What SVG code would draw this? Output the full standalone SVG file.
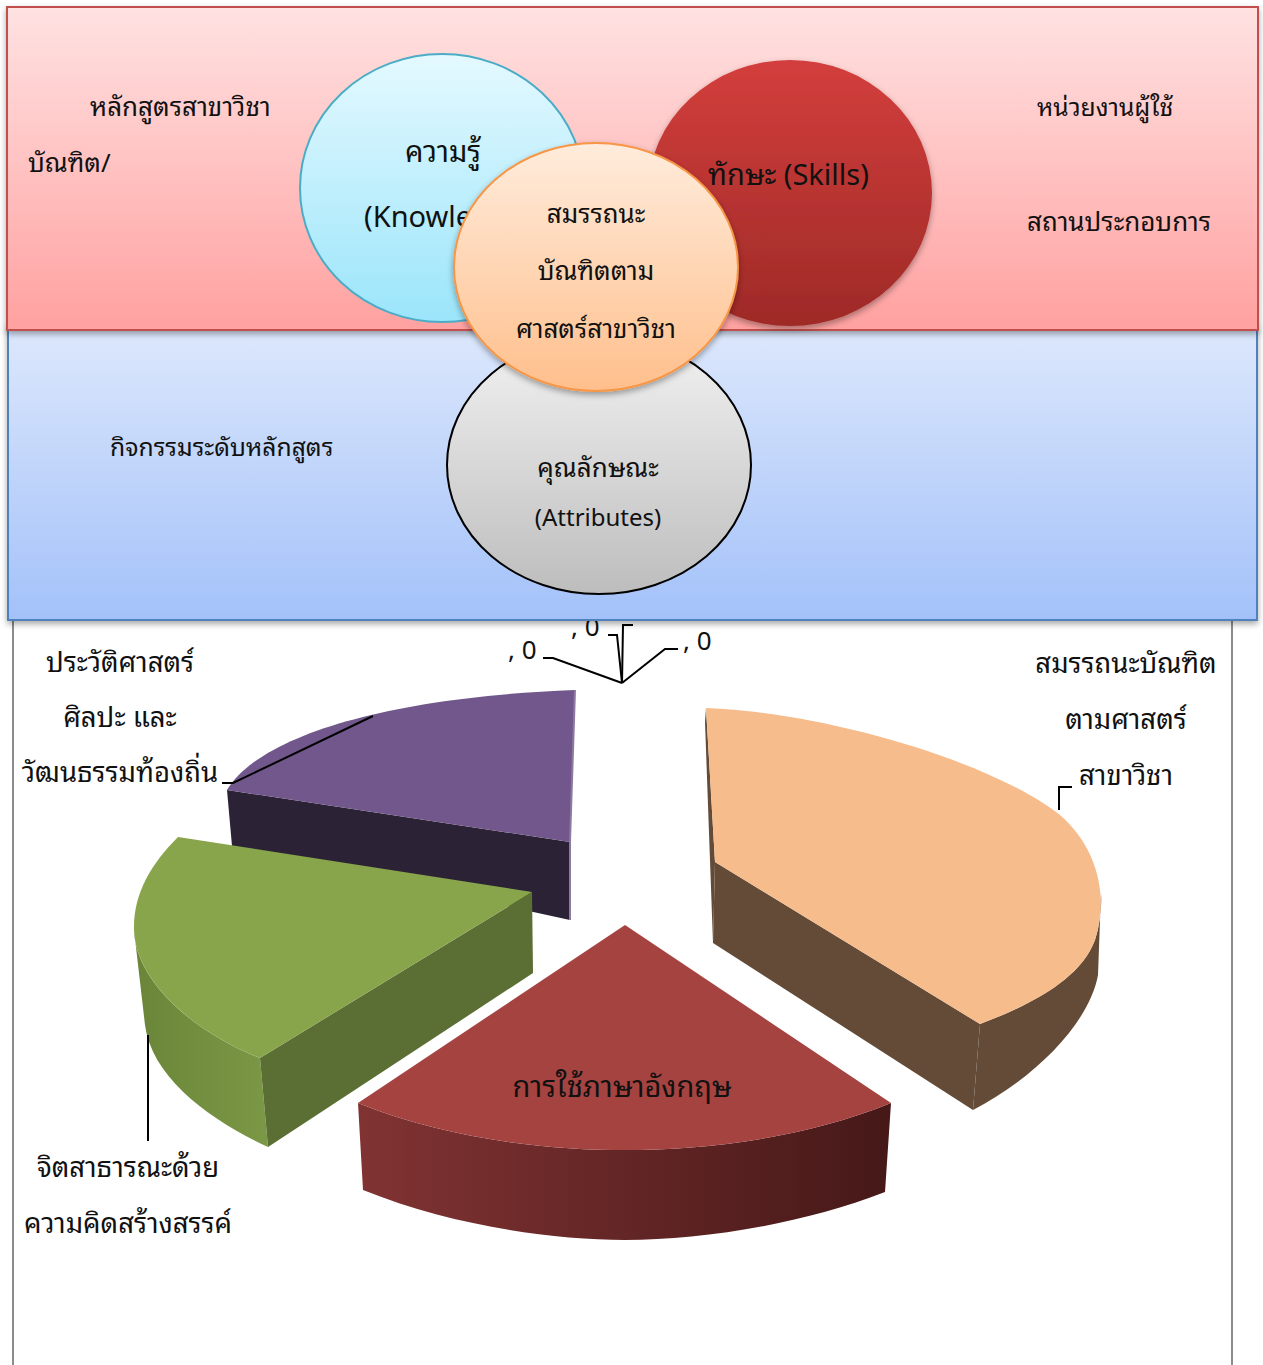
<svg xmlns="http://www.w3.org/2000/svg" width="1263" height="1365" viewBox="0 0 1263 1365">
<defs>
<style>
text{font-family:"Noto Sans Thai Looped","Noto Sans Thai","Noto Sans","DejaVu Sans",sans-serif;fill:#111;}
.t26{font-size:26px;}
.t24{font-size:26px;}
.t25{font-size:24.7px;}
.tp{font-size:27.5px;}
.tc{font-size:26px;}
.t28{font-size:29px;}
.en{font-size:24px;}
.mid{text-anchor:middle;}
.lead{fill:none;stroke:#000;stroke-width:2;}
.frame{stroke:#8c8c8c;stroke-width:2;fill:none;}
</style>
<linearGradient id="gPink" x1="0" y1="0" x2="0" y2="1"><stop offset="0" stop-color="#ffe2e2"/><stop offset="1" stop-color="#ffa1a0"/></linearGradient>
<linearGradient id="gBlue" x1="0" y1="0" x2="0" y2="1"><stop offset="0" stop-color="#dde8fc"/><stop offset="1" stop-color="#a3c1f9"/></linearGradient>
<linearGradient id="gCyan" x1="0" y1="0" x2="0" y2="1"><stop offset="0" stop-color="#e4f9ff"/><stop offset="1" stop-color="#9be5fa"/></linearGradient>
<linearGradient id="gRed" x1="0" y1="0" x2="0" y2="1"><stop offset="0" stop-color="#d33e3c"/><stop offset="1" stop-color="#9e2a27"/></linearGradient>
<linearGradient id="gGray" x1="0" y1="0" x2="0" y2="1"><stop offset="0" stop-color="#f2f2f2"/><stop offset="1" stop-color="#bdbdbd"/></linearGradient>
<linearGradient id="gOrange" x1="0" y1="0" x2="0" y2="1"><stop offset="0" stop-color="#ffecdc"/><stop offset="1" stop-color="#ffbf8c"/></linearGradient>
<linearGradient id="gRedSide" x1="0" y1="0" x2="1" y2="0"><stop offset="0" stop-color="#813333"/><stop offset="1" stop-color="#461818"/></linearGradient>
<linearGradient id="gGreenSide" x1="0" y1="0" x2="1" y2="0"><stop offset="0" stop-color="#6a8538"/><stop offset="1" stop-color="#7b9846"/></linearGradient>
<filter id="sh" x="-5%" y="-5%" width="110%" height="115%"><feDropShadow dx="0" dy="3" stdDeviation="3" flood-color="#000" flood-opacity="0.35"/></filter>
</defs>

<g id="frame">
<line class="frame" x1="13" y1="600" x2="13" y2="1365"/>
<line class="frame" x1="1232" y1="600" x2="1232" y2="1365"/>
</g>

<g id="pie">
<g id="slice-purple">
<path d="M227,790 L570,842 L570,920 L232,846 Z" fill="#2c2236"/>
<path d="M575,690 L570,842 L227,790 C260,735 390,697 575,690 Z" fill="#71578b"/>
<path d="M575,690 L570,842 L570,920" fill="none" stroke="#8d7aa3" stroke-width="2"/>
</g>
<g id="slice-green">
<path d="M134,930 C136,985 200,1035 260,1058 L268,1147 C210,1120 152,1078 145,1025 Z" fill="url(#gGreenSide)"/>
<path d="M260,1058 L532,892 L533,973 L268,1147 Z" fill="#5b6e33"/>
<path d="M178,837 L532,892 L260,1058 C200,1035 136,985 134,930 C133,895 150,865 178,837 Z" fill="#88a54b"/>
</g>
<g id="slice-orange">
<path d="M706,708 L715,862 L713,943 L705,722 Z" fill="#634b37"/>
<path d="M715,862 L980,1024 L973,1110 L713,943 Z" fill="#634b37"/>
<path d="M980,1024 C1030,1005 1080,980 1095,940 C1100,925 1102,905 1101,893 L1098,975 C1090,1020 1040,1075 973,1110 Z" fill="#634b37"/>
<path d="M706,708 C820,712 990,760 1060,815 C1100,850 1108,900 1095,940 C1080,980 1030,1005 980,1024 L715,862 Z" fill="#f6bc8c"/>
</g>
<g id="slice-red">
<path d="M358,1103 C450,1140 550,1150 625,1150 C700,1150 800,1140 891,1103 L885,1192 C800,1225 700,1240 625,1240 C550,1240 450,1225 363,1190 Z" fill="url(#gRedSide)"/>
<path d="M625,925 L891,1103 C800,1140 700,1150 625,1150 C550,1150 450,1140 358,1103 Z" fill="#a54341"/>
<text class="t28 mid" x="622" y="1097">การใช้ภาษาอังกฤษ</text>
</g>
</g>

<g id="connectors">
<path class="lead" d="M543,658 L553,658 L622,683"/>
<path class="lead" d="M608,635 L617,635 L622,683"/>
<path class="lead" d="M633,625 L623,625 L622,683"/>
<path class="lead" d="M622,683 L665,649 L678,649"/>
<path class="lead" d="M222,783 L233,783 L373,716"/>
<path class="lead" d="M148,1035 L148,1141"/>
<path class="lead" d="M1072,787 L1059,787 L1059,810"/>
</g>

<g id="pie-labels">
<text class="t26" x="508" y="659">, 0</text>
<text class="t26" x="571" y="636">, 0</text>
<text class="t26" x="638" y="618">, 0</text>
<text class="t26" x="683" y="650">, 0</text>
<text class="tp mid" x="120" y="672">ประวัติศาสตร์</text>
<text class="tp mid" x="120" y="727">ศิลปะ และ</text>
<text class="tp mid" x="120" y="782">วัฒนธรรมท้องถิ่น</text>
<text class="tp mid" x="1126" y="673">สมรรถนะบัณฑิต</text>
<text class="tp mid" x="1126" y="729">ตามศาสตร์</text>
<text class="tp mid" x="1126" y="785">สาขาวิชา</text>
<text class="tp mid" x="128" y="1177">จิตสาธารณะด้วย</text>
<text class="tp mid" x="128" y="1233">ความคิดสร้างสรรค์</text>
</g>

<g id="box-activities" filter="url(#sh)">
<rect x="8" y="325" width="1249" height="295" fill="url(#gBlue)" stroke="#4f81bd" stroke-width="2"/>
</g>
<text class="t25" x="110" y="456">กิจกรรมระดับหลักสูตร</text>

<g id="box-stakeholders" filter="url(#sh)">
<rect x="7" y="7" width="1251" height="323" fill="url(#gPink)" stroke="#c0504d" stroke-width="2"/>
</g>
<text class="t24" x="90" y="116">หลักสูตรสาขาวิชา</text>
<text class="t24" x="28" y="172">บัณฑิต/</text>
<text class="t25" x="1037" y="116">หน่วยงานผู้ใช้</text>
<text class="t24" x="1027" y="231">สถานประกอบการ</text>

<g id="node-knowledge">
<ellipse cx="442" cy="188" rx="142" ry="134" fill="url(#gCyan)" stroke="#4bacc6" stroke-width="2"/>
<text class="t28 mid" x="443" y="162">ความรู้</text>
<text class="t28" x="364" y="227">(Knowledge)</text>
</g>

<g id="node-skills">
<ellipse cx="790" cy="193" rx="142" ry="133" fill="url(#gRed)" filter="url(#sh)"/>
<text class="t28" x="708" y="185">ทักษะ (Skills)</text>
</g>

<g id="node-attributes">
<ellipse cx="599" cy="465" rx="152" ry="129" fill="url(#gGray)" stroke="#000" stroke-width="2"/>
<text class="tc mid" x="598" y="477">คุณลักษณะ</text>
<text class="en mid" x="598" y="526">(Attributes)</text>
</g>

<g id="node-competency">
<ellipse cx="596" cy="267" rx="142" ry="124" fill="url(#gOrange)" stroke="#f79646" stroke-width="2" filter="url(#sh)"/>
<text class="tc mid" x="596" y="223">สมรรถนะ</text>
<text class="tc mid" x="596" y="280">บัณฑิตตาม</text>
<text class="tc mid" x="596" y="338">ศาสตร์สาขาวิชา</text>
</g>
</svg>
